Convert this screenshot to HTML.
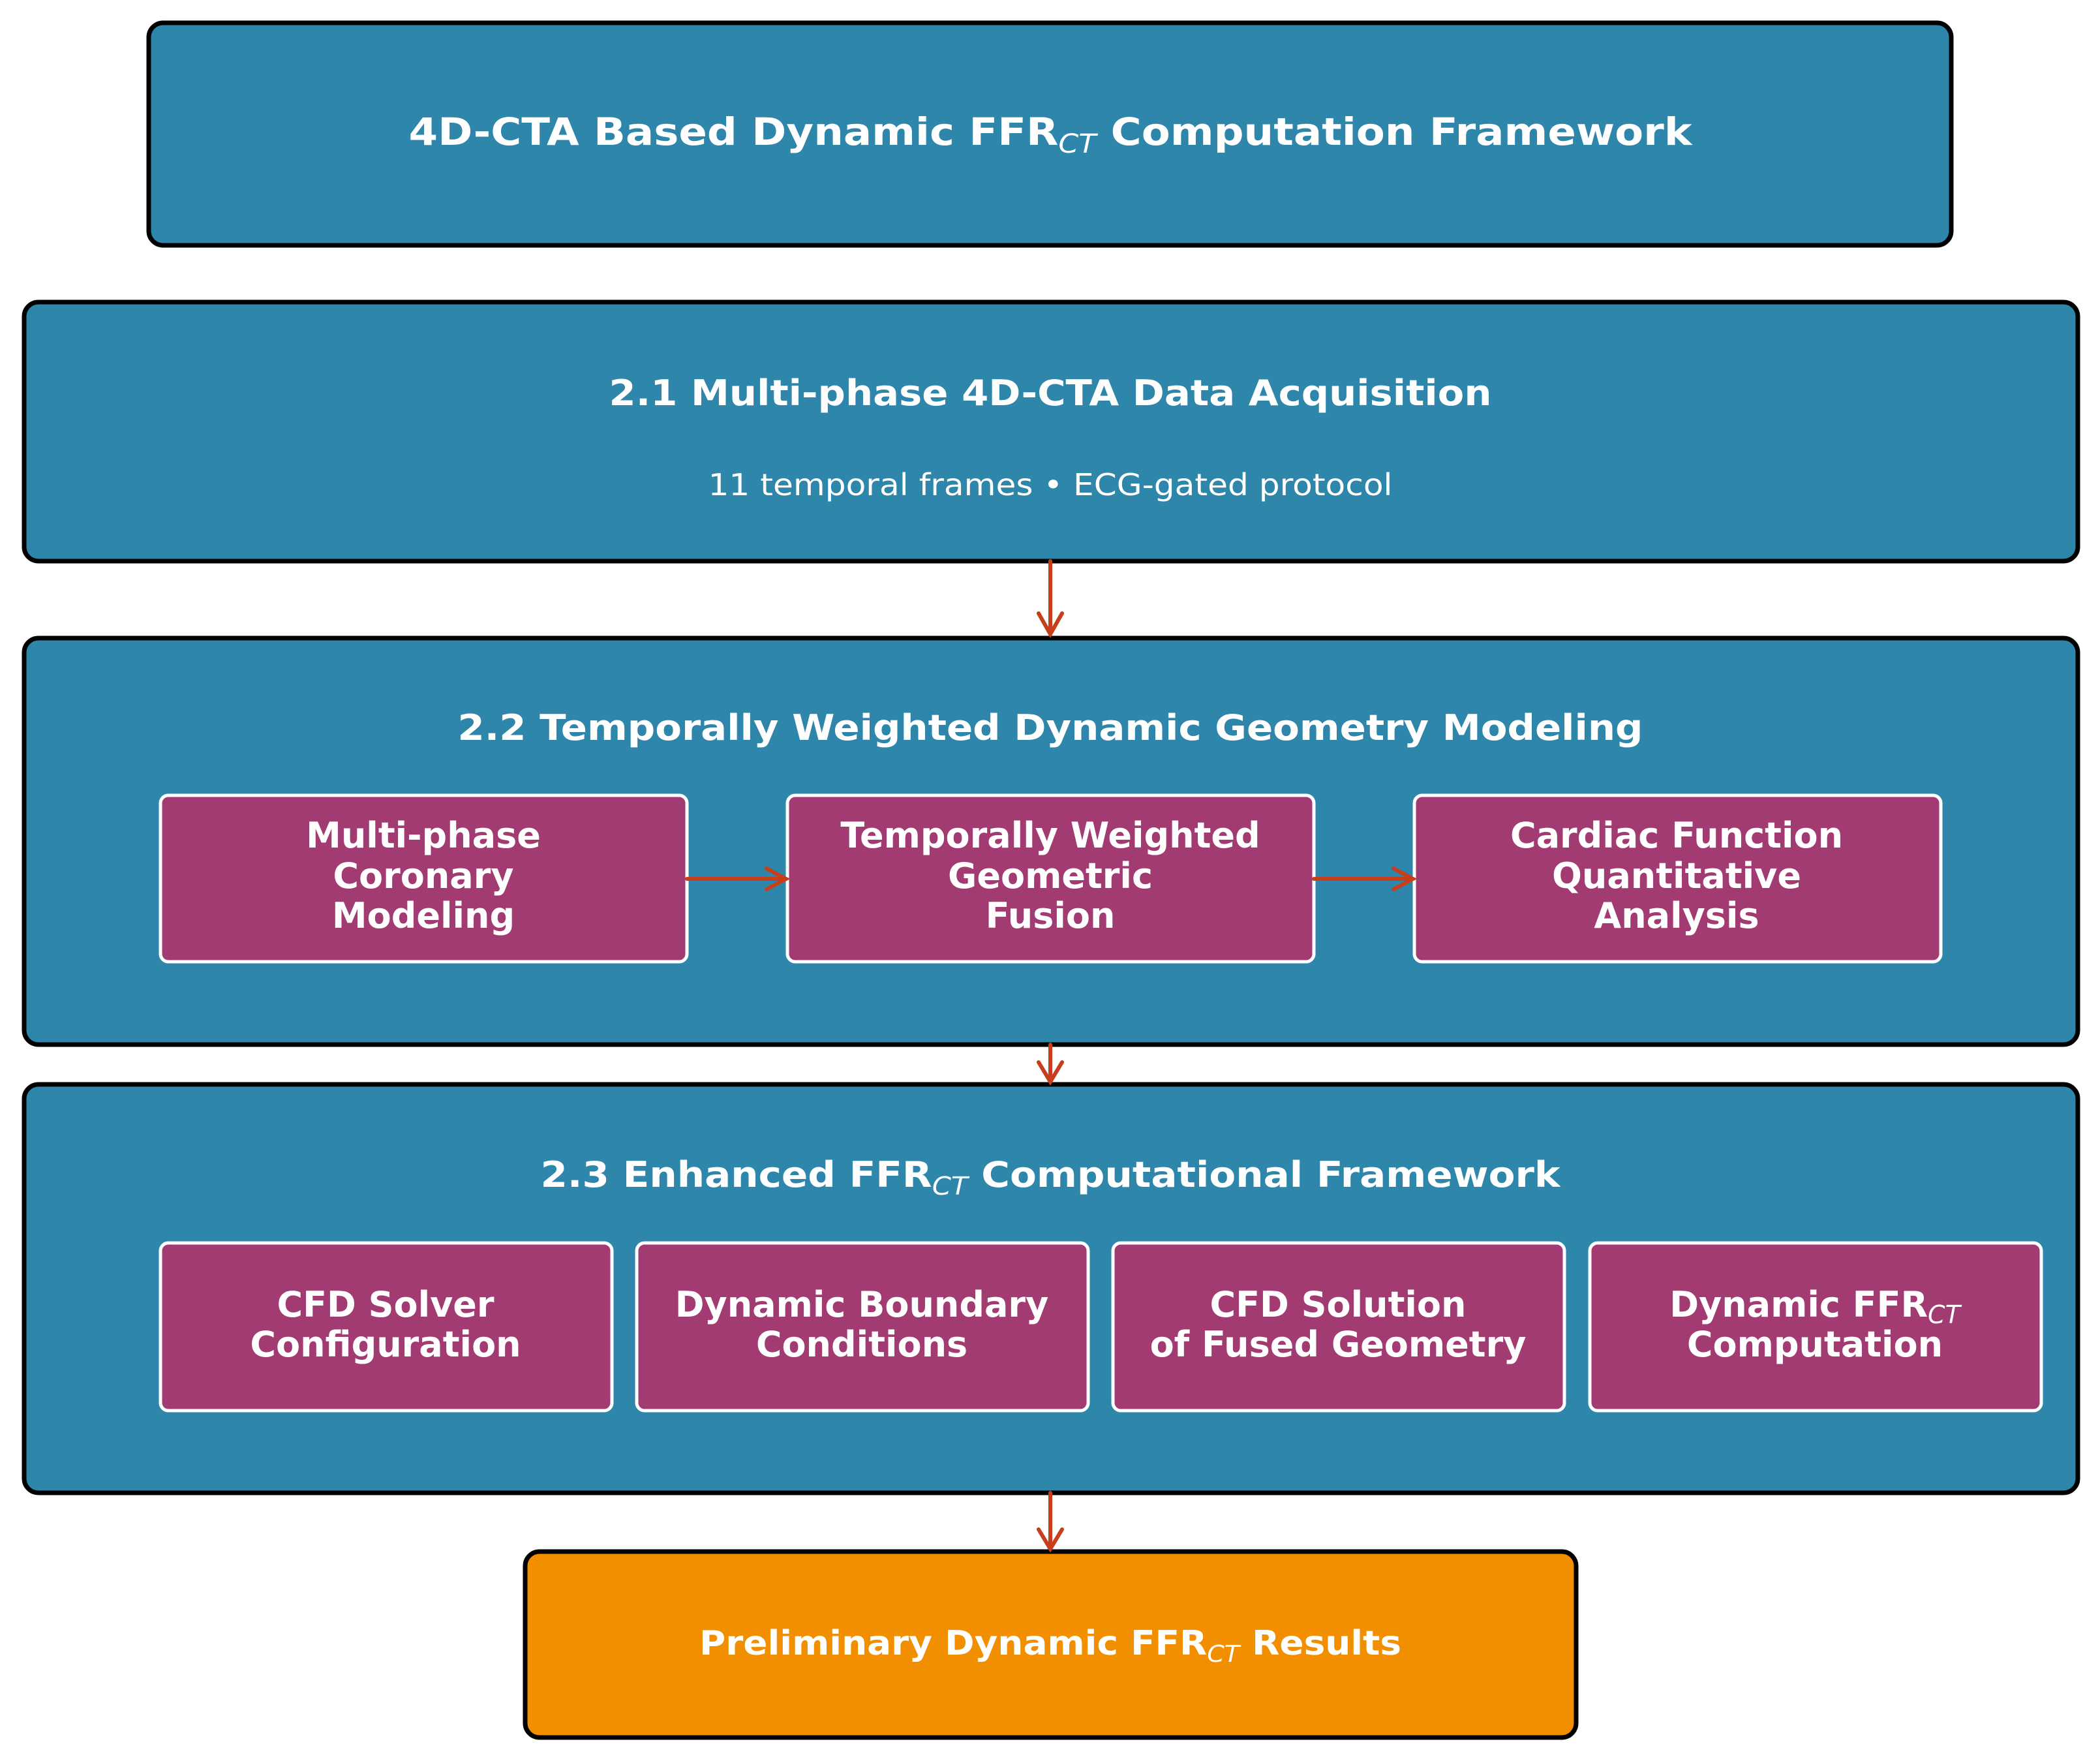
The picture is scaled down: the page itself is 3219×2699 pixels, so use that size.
<!DOCTYPE html>
<html><head><meta charset="utf-8"><style>
html,body{margin:0;padding:0;background:#fff;}
svg{display:block;}
text{font-family:"DejaVu Sans","Liberation Sans",sans-serif;fill:#fff;text-anchor:middle;}
.b{font-weight:bold;}
</style></head><body>
<svg width="3219" height="2699" viewBox="0 0 3219 2699" xmlns="http://www.w3.org/2000/svg">
<g stroke="#000" stroke-width="7">
<rect x="228" y="35" width="2763" height="341" rx="22" fill="#2E86AB"/>
<rect x="37" y="463" width="3148" height="397" rx="22" fill="#2E86AB"/>
<rect x="37" y="978" width="3148" height="623" rx="22" fill="#2E86AB"/>
<rect x="37" y="1662" width="3148" height="626" rx="22" fill="#2E86AB"/>
<rect x="805" y="2378" width="1611" height="285" rx="22" fill="#F18F01"/>
</g>
<g stroke="#fff" stroke-width="5" fill="#A23B72">
<rect x="246" y="1219" width="807" height="255" rx="12"/>
<rect x="1207" y="1219" width="807" height="255" rx="12"/>
<rect x="2168" y="1219" width="807" height="255" rx="12"/>
<rect x="246" y="1905" width="692" height="257" rx="12"/>
<rect x="976" y="1905" width="692" height="257" rx="12"/>
<rect x="1706" y="1905" width="692" height="257" rx="12"/>
<rect x="2437" y="1905" width="692" height="257" rx="12"/>
</g>
<g stroke="#C73E1D" stroke-width="6" fill="none" stroke-linecap="round">
<path d="M1610 860 V972 M1592 940 L1610 972 L1628 940"/>
<path d="M1610 1601 V1658 M1592 1628 L1610 1658 L1628 1628"/>
<path d="M1610 2288 V2374 M1592 2344 L1610 2374 L1628 2344"/>
<path d="M1053 1347 H1205 M1175 1331 L1205 1347 L1175 1363"/>
<path d="M2014 1347 H2166 M2136 1331 L2166 1347 L2136 1363"/>
</g>
<text class="b" x="1610" y="222" font-size="58" textLength="1967" lengthAdjust="spacingAndGlyphs">4D-CTA Based Dynamic FFR<tspan font-size="40" font-weight="normal" font-style="italic" dy="12">CT</tspan><tspan dy="-12"> Computation Framework</tspan></text>
<text class="b" x="1610" y="621" font-size="54" textLength="1353" lengthAdjust="spacingAndGlyphs">2.1 Multi-phase 4D-CTA Data Acquisition</text>
<text x="1610" y="759" font-size="46" textLength="1049" lengthAdjust="spacingAndGlyphs">11 temporal frames • ECG-gated protocol</text>
<text class="b" x="1610" y="1134" font-size="54" textLength="1817" lengthAdjust="spacingAndGlyphs">2.2 Temporally Weighted Dynamic Geometry Modeling</text>
<g class="b" font-size="54">
<text class="b" x="649" y="1299">Multi-phase</text>
<text class="b" x="649" y="1361">Coronary</text>
<text class="b" x="649" y="1422">Modeling</text>
<text class="b" x="1610" y="1299">Temporally Weighted</text>
<text class="b" x="1610" y="1361">Geometric</text>
<text class="b" x="1610" y="1422">Fusion</text>
<text class="b" x="2570" y="1299">Cardiac Function</text>
<text class="b" x="2570" y="1361">Quantitative</text>
<text class="b" x="2570" y="1422">Analysis</text>
<text class="b" x="591" y="2018">CFD Solver</text>
<text class="b" x="591" y="2079">Configuration</text>
<text class="b" x="1321" y="2018">Dynamic Boundary</text>
<text class="b" x="1321" y="2079">Conditions</text>
<text class="b" x="2051" y="2018">CFD Solution</text>
<text class="b" x="2051" y="2079">of Fused Geometry</text>
<text class="b" x="2782" y="2018">Dynamic FFR<tspan font-size="38" font-weight="normal" font-style="italic" dy="10">CT</tspan></text>
<text class="b" x="2782" y="2079">Computation</text>
</g>
<text class="b" x="1610" y="1819" font-size="54" textLength="1563" lengthAdjust="spacingAndGlyphs">2.3 Enhanced FFR<tspan font-size="38" font-weight="normal" font-style="italic" dy="12">CT</tspan><tspan dy="-12"> Computational Framework</tspan></text>
<text class="b" x="1610" y="2536" font-size="52" textLength="1076" lengthAdjust="spacingAndGlyphs">Preliminary Dynamic FFR<tspan font-size="36" font-weight="normal" font-style="italic" dy="11">CT</tspan><tspan dy="-11"> Results</tspan></text>
</svg>
</body></html>
